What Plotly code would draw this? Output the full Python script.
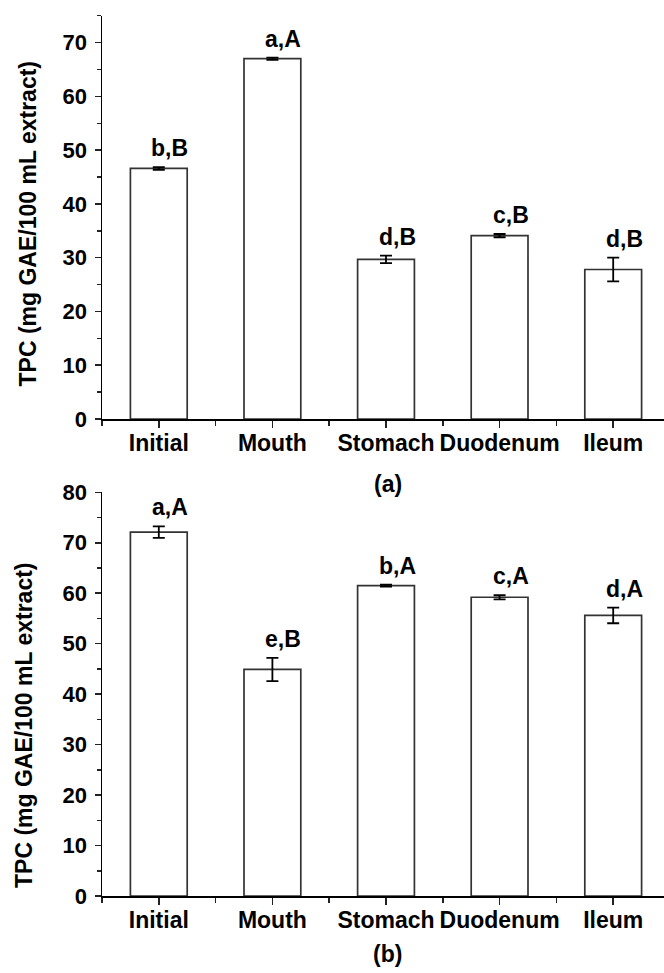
import plotly.graph_objects as go

categories = ["Initial", "Mouth", "Stomach", "Duodenum", "Ileum"]

# Panel (a)
tpc_a = [46.6, 67.0, 29.7, 34.1, 27.8]
err_a = [0.25, 0.2, 0.7, 0.3, 2.2]
letters_a = ["b,B", "a,A", "d,B", "c,B", "d,B"]

# Panel (b)
tpc_b = [72.1, 44.9, 61.5, 59.2, 55.6]
err_b = [1.15, 2.3, 0.2, 0.4, 1.55]
letters_b = ["a,A", "e,B", "b,A", "c,A", "d,A"]

ytitle = "TPC (mg GAE/100 mL extract)"
FONT = "Liberation Sans, Arial, sans-serif"
W, H = 664, 973

xpos = list(range(len(categories)))

fig = go.Figure()

def add_bars(vals, errs, xa, ya):
    fig.add_trace(go.Bar(
        x=xpos, y=vals, width=0.5,
        marker=dict(color="white", line=dict(color="#333333", width=1.7)),
        error_y=dict(type="data", array=errs, visible=True,
                     color="black", thickness=1.8, width=6),
        xaxis=xa, yaxis=ya, showlegend=False, hoverinfo="skip",
    ))

add_bars(tpc_a, err_a, "x", "y")
add_bars(tpc_b, err_b, "x2", "y2")

def bold(size):
    return dict(family=FONT, size=size, color="black", weight="bold")

annotations = []
for vals, errs, labs, xr, yr in [(tpc_a, err_a, letters_a, "x", "y"),
                                 (tpc_b, err_b, letters_b, "x2", "y2")]:
    for i, (v, e, t) in enumerate(zip(vals, errs, labs)):
        annotations.append(dict(
            x=xpos[i], y=v + e, xref=xr, yref=yr, text=t, showarrow=False,
            xshift=11, yshift=19, yanchor="middle", xanchor="center",
            font=bold(23),
        ))

# y titles
annotations.append(dict(x=28 / W, y=1 - 223.5 / H, xref="paper", yref="paper",
                        text=ytitle, textangle=-90, showarrow=False,
                        xanchor="center", yanchor="middle", font=bold(23)))
annotations.append(dict(x=24 / W, y=1 - 725 / H, xref="paper", yref="paper",
                        text=ytitle, textangle=-90, showarrow=False,
                        xanchor="center", yanchor="middle", font=bold(23)))
# captions
annotations.append(dict(x=388 / W, y=1 - 484 / H, xref="paper", yref="paper",
                        text="(a)", showarrow=False, xanchor="center", yanchor="middle",
                        font=bold(23)))
annotations.append(dict(x=387 / W, y=1 - 954 / H, xref="paper", yref="paper",
                        text="(b)", showarrow=False, xanchor="center", yanchor="middle",
                        font=bold(23)))

xmin = -0.5
xmax = -0.5 + (W - 102) / 113.6

def xaxis_cfg(anchor):
    return dict(
        domain=[102 / W, 1.0], range=[xmin, xmax], anchor=anchor,
        tickmode="array", tickvals=xpos, ticktext=categories,
        showline=True, linecolor="black", linewidth=1.5,
        ticks="outside", ticklen=7, tickwidth=1.5, tickcolor="#222",
        minor=dict(tickmode="array", tickvals=[-0.5, 0.5, 1.5, 2.5, 3.5, 4.5],
                   ticks="outside", ticklen=5, tickwidth=1.5, tickcolor="#222"),
        showgrid=False, zeroline=False, tickfont=bold(23), fixedrange=True,
        ticklabelstandoff=-4,
    )

def yaxis_cfg(anchor, dom, rng):
    return dict(
        domain=dom, range=rng, anchor=anchor,
        tickmode="linear", tick0=0, dtick=10,
        showline=True, linecolor="black", linewidth=1.5,
        ticks="outside", ticklen=6, tickwidth=1.5, tickcolor="#222",
        minor=dict(tickmode="linear", tick0=0, dtick=5,
                   ticks="outside", ticklen=4, tickwidth=1.5, tickcolor="#222"),
        showgrid=False, zeroline=False, tickfont=bold(22), fixedrange=True,
        ticklabelstandoff=3,
    )

fig.update_layout(
    width=W, height=H,
    margin=dict(l=0, r=0, t=0, b=0, autoexpand=False),
    paper_bgcolor="white", plot_bgcolor="white",
    xaxis=xaxis_cfg("y"),
    yaxis=yaxis_cfg("x", [1 - 419 / H, 1 - 15.7 / H], [0, 75]),
    xaxis2=xaxis_cfg("y2"),
    yaxis2=yaxis_cfg("x2", [1 - 896 / H, 1 - 492.3 / H], [0, 80]),
    annotations=annotations,
    bargap=0.5,
    hovermode=False,
)

fig.write_html("out.html",
               config={"displayModeBar": False, "staticPlot": True},
               post_script="document.body.style.margin='0px';document.body.style.overflow='hidden';")
